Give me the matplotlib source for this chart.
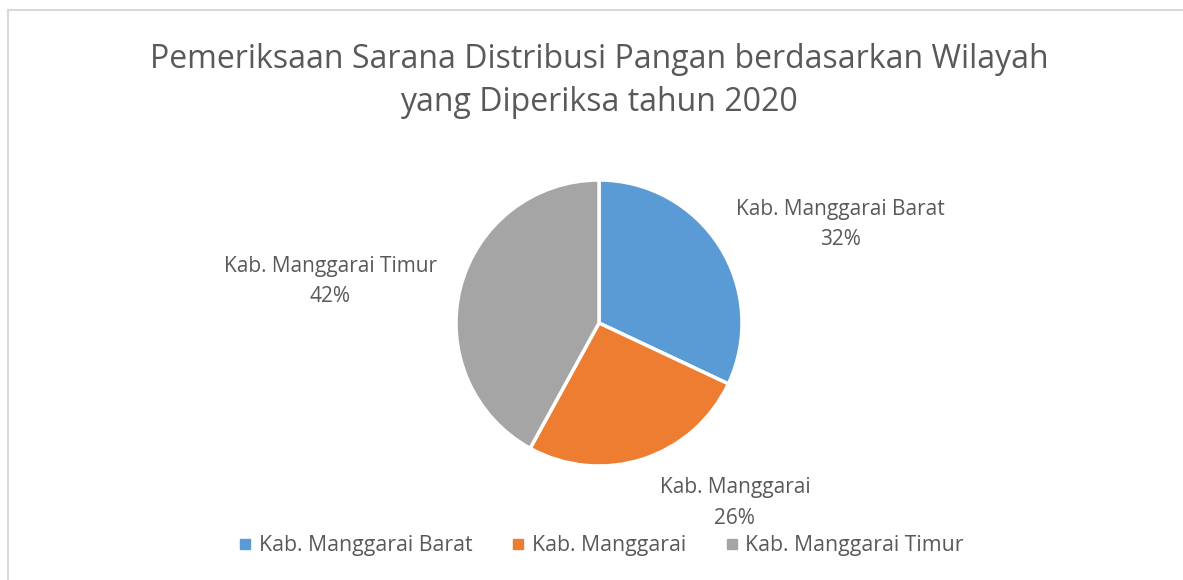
import matplotlib.pyplot as plt
from matplotlib.lines import Line2D

plt.rcParams['font.family'] = ['Open Sans', 'DejaVu Sans']

# data
wilayah = ["Kab. Manggarai Barat", "Kab. Manggarai", "Kab. Manggarai Timur"]
persen = [32, 26, 42]
warna = ["#5B9BD5", "#ED7D31", "#A5A5A5"]
teks = "#595959"

fig = plt.figure(figsize=(11.83, 5.8), dpi=100)

# pie axes filling the figure, scaled so radius 1 = 143 px
W, H = 1183, 580
cx, cy, r = 599, 257, 143
ax = fig.add_axes([0, 0, 1, 1])
wedges, _ = ax.pie(persen, colors=warna, startangle=90, counterclock=False,
                   wedgeprops=dict(edgecolor="white", linewidth=2.5))
ax.set_xlim(-cx / r, (W - cx) / r)
ax.set_ylim(-cy / r, (H - cy) / r)
ax.set_aspect("auto")
ax.axis("off")

# label positions (in radius units, relative to pie centre)
label_pos = [(1.69, 0.69), (0.95, -1.26), (-1.88, 0.29)]
for nama, p, (lx, ly) in zip(wilayah, persen, label_pos):
    ax.text(lx, ly, f"{nama}\n{p}%", ha="center", va="center",
            fontsize=15, color=teks, linespacing=1.6)

# title
fig.text(cx / W, 1 - 81 / H,
         "Pemeriksaan Sarana Distribusi Pangan berdasarkan Wilayah\nyang Diperiksa tahun 2020",
         ha="center", va="center", fontsize=23, color=teks, linespacing=1.4)

# legend
handles = [Line2D([], [], marker="s", linestyle="none", markersize=7,
                  markerfacecolor=c, markeredgecolor=c) for c in warna]
fig.legend(handles, wilayah, loc="center", ncol=3, frameon=False,
           bbox_to_anchor=(cx / W, 34 / H), fontsize=15.3, labelcolor=teks,
           handletextpad=0.15, columnspacing=1.65, handlelength=1.0)

# chart border (left and top visible)
fig.add_artist(Line2D([8 / W, 8 / W], [0, 1 - 10 / H], color="#D9D9D9",
                      linewidth=1.5, transform=fig.transFigure))
fig.add_artist(Line2D([8 / W, 1], [1 - 10 / H, 1 - 10 / H], color="#D9D9D9",
                      linewidth=1.5, transform=fig.transFigure))

fig.savefig("out.png", dpi=100, facecolor="white")
